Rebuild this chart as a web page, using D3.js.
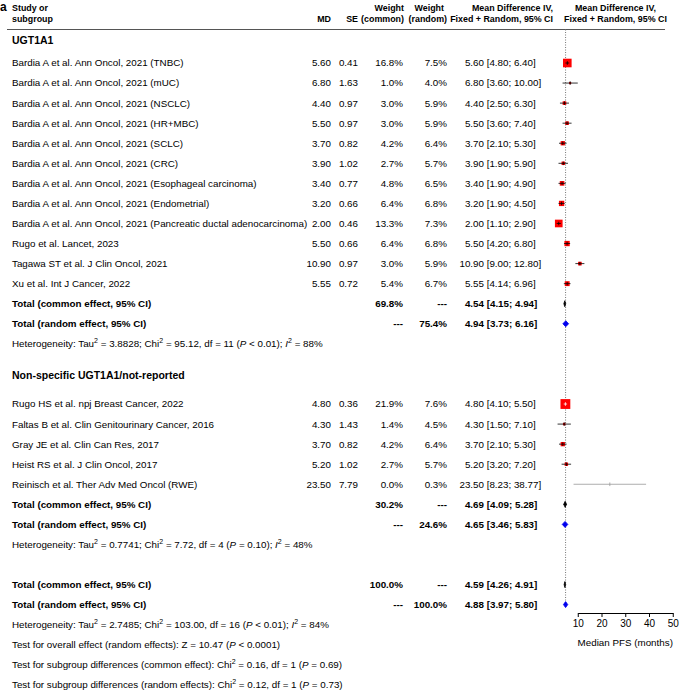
<!DOCTYPE html>
<meta charset="utf-8">
<style>
body { margin: 0; background: #fff; }
svg { font-family: "Liberation Sans", Arial, sans-serif; font-size: 9.8px; }
.b { font-weight: bold; }
</style>
<body>
<script src="https://d3js.org/d3.v7.min.js"></script>
<script>

// ---- data ----
var groups = ["UGT1A1", "Non-specific UGT1A1/not-reported"];

var studies = [
  "Bardia A et al. Ann Oncol, 2021 (TNBC)",
  "Bardia A et al. Ann Oncol, 2021 (mUC)",
  "Bardia A et al. Ann Oncol, 2021 (NSCLC)",
  "Bardia A et al. Ann Oncol, 2021 (HR+MBC)",
  "Bardia A et al. Ann Oncol, 2021 (SCLC)",
  "Bardia A et al. Ann Oncol, 2021 (CRC)",
  "Bardia A et al. Ann Oncol, 2021 (Esophageal carcinoma)",
  "Bardia A et al. Ann Oncol, 2021 (Endometrial)",
  "Bardia A et al. Ann Oncol, 2021 (Pancreatic ductal adenocarcinoma)",
  "Rugo et al. Lancet, 2023",
  "Tagawa ST et al. J Clin Oncol, 2021",
  "Xu et al. Int J Cancer, 2022",
  "Rugo HS et al. npj Breast Cancer, 2022",
  "Faltas B et al. Clin Genitourinary Cancer, 2016",
  "Gray JE et al. Clin Can Res, 2017",
  "Heist RS et al. J Clin Oncol, 2017",
  "Reinisch et al. Ther Adv Med Oncol (RWE)"
];
var studyGroup = [0,0,0,0,0,0,0,0,0,0,0,0,1,1,1,1,1];
var md      = [5.60, 6.80, 4.40, 5.50, 3.70, 3.90, 3.40, 3.20, 2.00, 5.50, 10.90, 5.55, 4.80, 4.30, 3.70, 5.20, 23.50];
var se      = [0.41, 1.63, 0.97, 0.97, 0.82, 1.02, 0.77, 0.66, 0.46, 0.66, 0.97, 0.72, 0.36, 1.43, 0.82, 1.02, 7.79];
var wCommon = [16.8, 1.0, 3.0, 3.0, 4.2, 2.7, 4.8, 6.4, 13.3, 6.4, 3.0, 5.4, 21.9, 1.4, 4.2, 2.7, 0.0];
var wRandom = [7.5, 4.0, 5.9, 5.9, 6.4, 5.7, 6.5, 6.8, 7.3, 6.8, 5.9, 6.7, 7.6, 4.5, 6.4, 5.7, 0.3];
var ciLow   = [4.80, 3.60, 2.50, 3.60, 2.10, 1.90, 1.90, 1.90, 1.10, 4.20, 9.00, 4.14, 4.10, 1.50, 2.10, 3.20, 8.23];
var ciHigh  = [6.40, 10.00, 6.30, 7.40, 5.30, 5.90, 4.90, 4.50, 2.90, 6.80, 12.80, 6.96, 5.50, 7.10, 5.30, 7.20, 38.77];

// subgroup totals: [estimate, lower, upper]
var groupCommon = [[4.54, 4.15, 4.94], [4.69, 4.09, 5.28]];
var groupRandom = [[4.94, 3.73, 6.16], [4.65, 3.46, 5.83]];
var groupWCommon = ["69.8%", "30.2%"];
var groupWRandom = ["75.4%", "24.6%"];
var hetTau = ["3.8828", "0.7741"];
var hetChi = ["95.12", "7.72"];
var hetDf  = ["11", "4"];
var hetP   = ["< 0.01", "= 0.10"];
var hetI2  = ["88%", "48%"];

var overallCommon = [4.59, 4.26, 4.91];
var overallRandom = [4.88, 3.97, 5.80];
var overallHet = {tau: "2.7485", chi: "103.00", df: "16", p: "< 0.01", i2: "84%"};
var overallZ = {z: "10.47", p: "< 0.0001"};
var subCommonTest = {chi: "0.16", df: "1", p: "= 0.69"};
var subRandomTest = {chi: "0.12", df: "1", p: "= 0.73"};

var xTicks = [10, 20, 30, 40, 50];
var xTitle = "Median PFS (months)";

// ---- layout ----
var W = 680, H = 691;
var svg = d3.select("body").append("svg").attr("width", W).attr("height", H);

var x = d3.scaleLinear().domain([10, 50]).range([577.75, 672.75]);
var row = d3.scaleLinear().domain([0, 1]).range([63, 83.06]);

var col = {study: 12, md: 331, se: 358, wc: 403, wr: 447, est: 484, ci: 486.7};

function fmt(v) { return v.toFixed(2); }

function rich(g, xpos, y, parts, cls, anchor) {
  var t = g.append("text").attr("x", xpos).attr("y", y).attr("dy", "0.35em")
    .attr("text-anchor", anchor || "start");
  if (cls) t.attr("class", cls);
  var back = 0;
  parts.forEach(function(p) {
    if (typeof p === "string") p = {t: p};
    var s = t.append("tspan").text(p.t);
    if (p.i) s.attr("font-style", "italic");
    if (p.sup) {
      s.attr("dy", -3.8 + back).attr("font-size", "7px");
      back = 3.8;
    } else if (back) {
      s.attr("dy", back);
      back = 0;
    }
  });
  return t;
}

function hetParts(tau, chi, df, p, i2) {
  return ["Heterogeneity: Tau", {t: "2", sup: 1}, " = " + tau + "; Chi", {t: "2", sup: 1},
    " = " + chi + ", df = " + df + " (", {t: "P", i: 1}, " " + p + "); ",
    {t: "I", i: 1}, {t: "2", sup: 1}, " = " + i2];
}

// panel letter + header
svg.append("text").attr("x", 0).attr("y", 11).attr("class", "b")
  .style("font-size", "12px").text("a");

var hdr = svg.append("g").attr("class", "b").style("font-size", "8.9px");
hdr.append("text").attr("x", col.study).attr("y", 11).text("Study or");
hdr.append("text").attr("x", col.study).attr("y", 22).text("subgroup");
hdr.append("text").attr("x", col.md).attr("y", 22).attr("text-anchor", "end").text("MD");
hdr.append("text").attr("x", col.se).attr("y", 22).attr("text-anchor", "end").text("SE");
hdr.append("text").attr("x", col.wc + 1).attr("y", 11).attr("text-anchor", "end").text("Weight");
hdr.append("text").attr("x", col.wc + 1).attr("y", 22).attr("text-anchor", "end").text("(common)");
hdr.append("text").attr("x", col.wr - 3).attr("y", 11).attr("text-anchor", "end").text("Weight");
hdr.append("text").attr("x", col.wr).attr("y", 22).attr("text-anchor", "end").text("(random)");
hdr.append("text").attr("x", 553).attr("y", 11).attr("text-anchor", "end").text("Mean Difference IV,");
hdr.append("text").attr("x", 553).attr("y", 22).attr("text-anchor", "end").text("Fixed + Random, 95% CI");
hdr.append("text").attr("x", 615.5).attr("y", 11).attr("text-anchor", "middle").text("Mean Difference IV,");
hdr.append("text").attr("x", 615.5).attr("y", 22).attr("text-anchor", "middle").text("Fixed + Random, 95% CI");

svg.append("line").attr("x1", 7).attr("x2", 665).attr("y1", 29.5).attr("y2", 29.5)
  .attr("stroke", "#555").attr("stroke-width", 1);

// reference line at overall random estimate
svg.append("line")
  .attr("x1", x(overallRandom[0])).attr("x2", x(overallRandom[0]))
  .attr("y1", 29.5).attr("y2", row(27) + 2)
  .attr("stroke", "#777").attr("stroke-width", 1).attr("stroke-dasharray", "1,1.5");

var body = svg.append("g");

function ciText(yy, est, lo, hi, bold) {
  var cls = bold ? "b" : null;
  body.append("text").attr("x", col.est).attr("y", yy).attr("dy", "0.35em")
    .attr("text-anchor", "end").attr("class", cls).text(fmt(est));
  body.append("text").attr("x", col.ci).attr("y", yy).attr("dy", "0.35em")
    .attr("class", cls).text("[" + fmt(lo) + "; " + fmt(hi) + "]");
}

function diamond(yy, v, color) {
  var h = 3;
  body.append("path")
    .attr("d", "M" + x(v[1]) + "," + yy + "L" + x(v[0]) + "," + (yy - h) +
      "L" + x(v[2]) + "," + yy + "L" + x(v[0]) + "," + (yy + h) + "Z")
    .attr("fill", color).attr("stroke", color).attr("stroke-width", 0.8);
}

function totalRows(yc, yr, label, wc, wr, vc, vr) {
  body.append("text").attr("x", col.study).attr("y", yc).attr("dy", "0.35em").attr("class", "b")
    .text(label[0]);
  body.append("text").attr("x", col.wc).attr("y", yc).attr("dy", "0.35em").attr("class", "b")
    .attr("text-anchor", "end").text(wc);
  body.append("text").attr("x", col.wr).attr("y", yc).attr("dy", "0.35em").attr("class", "b")
    .attr("text-anchor", "end").text("---");
  ciText(yc, vc[0], vc[1], vc[2], true);
  diamond(yc, vc, "#000");

  body.append("text").attr("x", col.study).attr("y", yr).attr("dy", "0.35em").attr("class", "b")
    .text(label[1]);
  body.append("text").attr("x", col.wc).attr("y", yr).attr("dy", "0.35em").attr("class", "b")
    .attr("text-anchor", "end").text("---");
  body.append("text").attr("x", col.wr).attr("y", yr).attr("dy", "0.35em").attr("class", "b")
    .attr("text-anchor", "end").text(wr);
  ciText(yr, vr[0], vr[1], vr[2], true);
  diamond(yr, vr, "#0000ee");
}

var totLabels = ["Total (common effect, 95% CI)", "Total (random effect, 95% CI)"];
var headOffset = [-1.15, -1.45];

var idx = 0;
groups.forEach(function(gname, g) {
  body.append("text").attr("x", col.study).attr("y", row(idx + headOffset[g]))
    .attr("dy", "0.35em").attr("class", "b").style("font-size", "10.5px").text(gname);

  studies.forEach(function(s, i) {
    if (studyGroup[i] !== g) return;
    var yy = row(idx);
    body.append("text").attr("x", col.study).attr("y", yy).attr("dy", "0.35em").text(s);
    body.append("text").attr("x", col.md).attr("y", yy).attr("dy", "0.35em")
      .attr("text-anchor", "end").text(fmt(md[i]));
    body.append("text").attr("x", col.se).attr("y", yy).attr("dy", "0.35em")
      .attr("text-anchor", "end").text(fmt(se[i]));
    body.append("text").attr("x", col.wc).attr("y", yy).attr("dy", "0.35em")
      .attr("text-anchor", "end").text(wCommon[i].toFixed(1) + "%");
    body.append("text").attr("x", col.wr).attr("y", yy).attr("dy", "0.35em")
      .attr("text-anchor", "end").text(wRandom[i].toFixed(1) + "%");
    ciText(yy, md[i], ciLow[i], ciHigh[i], false);

    var size = 2.1 * Math.sqrt(wCommon[i]);
    var lineCol = wCommon[i] > 0 ? "#000" : "#999";
    if (size > 0) {
      body.append("rect")
        .attr("x", x(md[i]) - size / 2).attr("y", yy - size / 2)
        .attr("width", size).attr("height", size).attr("fill", "#ff0000");
    }
    if (wCommon[i] >= 20) lineCol = "#fff";
    body.append("line").attr("x1", x(ciLow[i])).attr("x2", x(ciHigh[i]))
      .attr("y1", yy).attr("y2", yy).attr("stroke", lineCol).attr("stroke-width", 0.8);
    body.append("line").attr("x1", x(md[i])).attr("x2", x(md[i]))
      .attr("y1", yy - 1.8).attr("y2", yy + 1.8).attr("stroke", lineCol).attr("stroke-width", 0.8);
    idx++;
  });

  totalRows(row(idx), row(idx + 1), totLabels, groupWCommon[g], groupWRandom[g],
    groupCommon[g], groupRandom[g]);
  rich(body, col.study, row(idx + 2), hetParts(hetTau[g], hetChi[g], hetDf[g], hetP[g], hetI2[g]));
  idx += 5;
});

// overall
idx -= 1;
totalRows(row(idx), row(idx + 1), totLabels, "100.0%", "100.0%", overallCommon, overallRandom);
rich(body, col.study, row(idx + 2),
  hetParts(overallHet.tau, overallHet.chi, overallHet.df, overallHet.p, overallHet.i2));
rich(body, col.study, row(idx + 3),
  ["Test for overall effect (random effects): Z = " + overallZ.z + " (", {t: "P", i: 1}, " " + overallZ.p + ")"]);
rich(body, col.study, row(idx + 4),
  ["Test for subgroup differences (common effect): Chi", {t: "2", sup: 1},
   " = " + subCommonTest.chi + ", df = " + subCommonTest.df + " (", {t: "P", i: 1}, " " + subCommonTest.p + ")"]);
rich(body, col.study, row(idx + 5),
  ["Test for subgroup differences (random effects): Chi", {t: "2", sup: 1},
   " = " + subRandomTest.chi + ", df = " + subRandomTest.df + " (", {t: "P", i: 1}, " " + subRandomTest.p + ")"]);

// x axis
var axY = 613;
var ax = svg.append("g").attr("transform", "translate(0," + axY + ")")
  .call(d3.axisBottom(x).tickValues(xTicks).tickSize(4).tickSizeOuter(0).tickPadding(3));
ax.selectAll("text").style("font-size", "10px").attr("fill", "#000")
  .style("font-family", "'Liberation Sans', Arial, sans-serif");
ax.selectAll("line, path").attr("stroke", "#000");

svg.append("text").attr("x", x(30)).attr("y", 643).attr("dy", "0.35em")
  .attr("text-anchor", "middle").text(xTitle);

</script>
</body>
